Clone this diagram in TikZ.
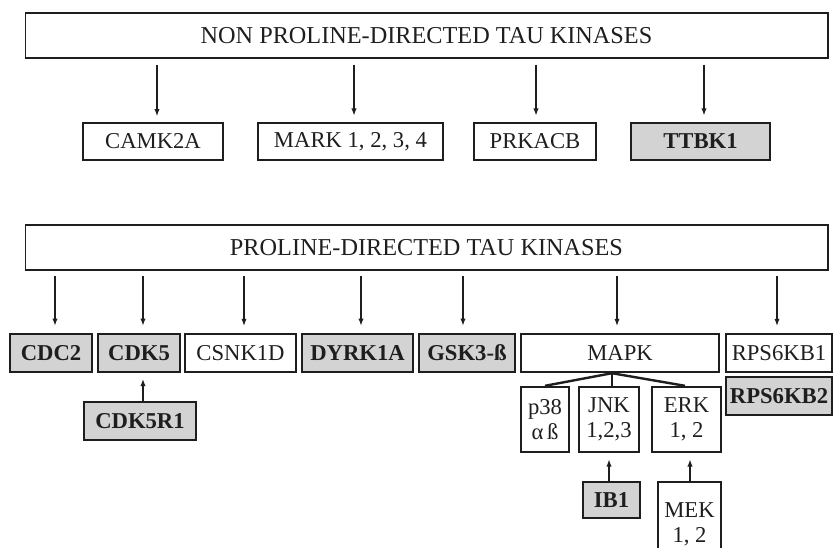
\documentclass[tikz,border=0pt]{standalone}
\usepackage{fontspec}
\setmainfont{Liberation Serif}
\usetikzlibrary{arrows.meta}
\definecolor{boxgray}{RGB}{211,211,211}
\definecolor{ink}{RGB}{30,30,30}
\begin{document}
\begin{tikzpicture}[x=0.75pt,y=-0.75pt,
  base/.style={draw=ink,text=ink,inner sep=0pt,align=center,font=\fontsize{17}{18.75}\selectfont},
  bigbox/.style={draw=ink,text=ink,line width=1pt,inner sep=0pt,minimum width=602pt,minimum height=33.75pt,font=\fontsize{18.2}{20}\selectfont},
  thinbox/.style={base,line width=1pt},
  thickbox/.style={base,line width=1.8pt},
  graybox/.style={base,line width=2.1pt,fill=boxgray,font=\fontsize{17}{18.75}\selectfont\bfseries},
  arr/.style={draw=ink,line width=1.3pt,-{Latex[length=5.5pt,width=4pt]}},
  branch/.style={draw=ink,line width=1.8pt}
]
\useasboundingbox (0,0) rectangle (835,547);
\clip (0,0) rectangle (835,547);

% top group
\node[bigbox] (top) at (426.5,35.5) {NON PROLINE-DIRECTED TAU KINASES};
\node[thinbox,minimum width=105pt,minimum height=27.75pt] (camk) at (153,141.5) {CAMK2A};
\node[thickbox,minimum width=138.75pt,minimum height=27.75pt] (mark) at (350.5,141.5) {MARK 1, 2, 3, 4};
\node[thickbox,minimum width=91.5pt,minimum height=27.75pt] (prk) at (535,141.5) {PRKACB};
\node[graybox,minimum width=104.25pt,minimum height=27.75pt] (ttbk) at (700.5,141.5) {TTBK1};

\draw[arr,shorten <=4.5pt,shorten >=4.5pt] (top.south -| 157,0) -- (camk.north -| 157,0);
\draw[arr,shorten <=4.5pt,shorten >=4.5pt] (top.south -| 354,0) -- (mark.north -| 354,0);
\draw[arr,shorten <=4.5pt,shorten >=4.5pt] (top.south -| 536,0) -- (prk.north -| 536,0);
\draw[arr,shorten <=4.5pt,shorten >=4.5pt] (top.south -| 704,0) -- (ttbk.north -| 704,0);

% lower group
\node[bigbox] (low) at (426.5,247.5) {PROLINE-DIRECTED TAU KINASES};
\node[graybox,minimum width=61.5pt,minimum height=28.5pt] (cdc2) at (51,353) {CDC2};
\node[graybox,minimum width=61.5pt,minimum height=28.5pt] (cdk5) at (139,353) {CDK5};
\node[thickbox,minimum width=83.25pt,minimum height=28.5pt] (csnk) at (240.5,353) {CSNK1D};
\node[graybox,minimum width=83.25pt,minimum height=28.5pt] (dyrk) at (357.5,353) {DYRK1A};
\node[graybox,minimum width=72pt,minimum height=28.5pt] (gsk) at (467,353) {GSK3-ß};
\node[thickbox,minimum width=148.5pt,minimum height=28.5pt] (mapk) at (620,353) {MAPK};
\node[thickbox,minimum width=79.5pt,minimum height=28.5pt] (rps1) at (779,353) {RPS6KB1};
\node[graybox,minimum width=79.5pt,minimum height=28.5pt] (rps2) at (779,396) {RPS6KB2};
\node[graybox,minimum width=84pt,minimum height=28.5pt] (cdk5r) at (140,421) {CDK5R1};

\node[thickbox,minimum width=36pt,minimum height=48.75pt] (p38) at (545,419.5) {p38\\α\,ß};
\node[thickbox,minimum width=45pt,minimum height=48.75pt] (jnk) at (609,419.5) {JNK\\1,2,3};
\node[thickbox,minimum width=51.75pt,minimum height=48.75pt] (erk) at (686.5,419.5) {ERK\\1, 2};
\node[graybox,minimum width=42.75pt,minimum height=27pt] (ib1) at (611.5,500) {IB1};
\node[thinbox,minimum width=47.25pt,minimum height=63pt] (mek) at (689.5,524) {MEK\\1, 2};

\draw[arr,shorten <=4pt,shorten >=5pt] (low.south -| 55,0) -- (cdc2.north -| 55,0);
\draw[arr,shorten <=4pt,shorten >=5pt] (low.south -| 143,0) -- (cdk5.north -| 143,0);
\draw[arr,shorten <=4pt,shorten >=5pt] (low.south -| 244,0) -- (csnk.north -| 244,0);
\draw[arr,shorten <=4pt,shorten >=5pt] (low.south -| 361,0) -- (dyrk.north -| 361,0);
\draw[arr,shorten <=4pt,shorten >=5pt] (low.south -| 463,0) -- (gsk.north -| 463,0);
\draw[arr,shorten <=4pt,shorten >=5pt] (low.south -| 617,0) -- (mapk.north -| 617,0);
\draw[arr,shorten <=4pt,shorten >=5pt] (low.south -| 777,0) -- (rps1.north -| 777,0);

\draw[arr,shorten >=4pt] (cdk5r.north -| 143,0) -- (cdk5.south -| 143,0);
\draw[arr,shorten >=4.5pt] (ib1.north -| 609,0) -- (jnk.south -| 609,0);
\draw[arr,shorten >=4.5pt] (mek.north -| 690,0) -- (erk.south -| 690,0);

\draw[branch] (mapk.south -| 612,0) -- (p38.north);
\draw[branch] (mapk.south -| 612,0) -- (jnk.north -| 612,0);
\draw[branch] (mapk.south -| 612,0) -- (erk.north -| 685,0);
\end{tikzpicture}
\end{document}
